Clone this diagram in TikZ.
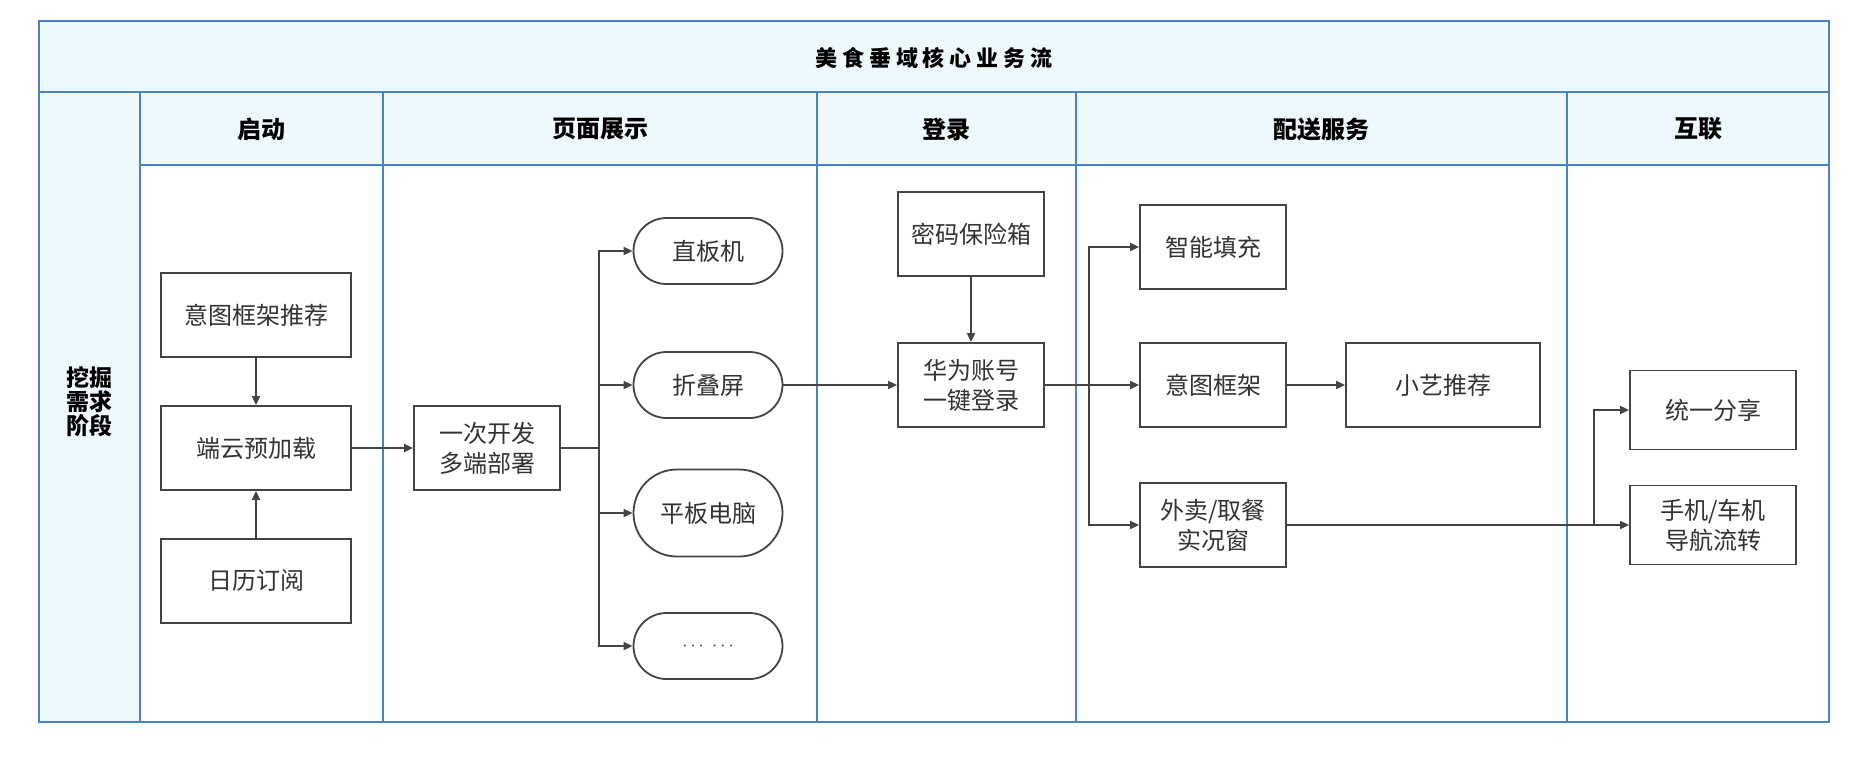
\documentclass[tikz,border=0pt]{standalone}
\usepackage{fontspec}
\setmainfont{Noto Sans CJK SC}
\newfontfamily\titlefont[LetterSpace=22]{Noto Sans CJK SC}
\usetikzlibrary{arrows.meta}
\definecolor{laneblue}{HTML}{4A82C6}
\definecolor{lanefill}{HTML}{EEF9FD}
\definecolor{ink}{HTML}{444444}
\definecolor{txt}{HTML}{333333}
\begin{document}
\begin{tikzpicture}[x=0.5pt,y=-0.5pt,
  grid/.style={draw=laneblue,line width=1pt},
  hd/.style={font=\fontsize{12}{12}\selectfont\bfseries,text=black},
  box/.style={draw=ink,line width=0.9pt,fill=white,text=txt,align=center,inner sep=2pt,minimum width=73pt,minimum height=42pt,font=\fontsize{12}{15}\selectfont},
  pill/.style={box,minimum width=74.5pt,minimum height=33pt,rounded corners=16.5pt},
  arr/.style={-{Triangle[length=4.5pt,width=4pt]},draw=ink,line width=0.9pt},
  ln/.style={draw=ink,line width=0.9pt}]
\useasboundingbox (0,0) rectangle (1861,762);
\fill[lanefill] (39,21) rectangle (1829,165); \fill[lanefill] (39,165) rectangle (140,722);
\draw[grid] (39,21) rectangle (1829,722); \draw[grid] (39,92) -- (1829,92); \draw[grid] (140,165) -- (1829,165);
\foreach \x in {140,383,817,1076,1567}{\draw[grid] (\x,92) -- (\x,722);}
\node[hd,font=\titlefont\fontsize{11}{11}\selectfont\bfseries] (title) at (934,58) {美食垂域核心业务流};
\node[hd] (h1) at (261,129) {启动}; \node[hd] (h2) at (600,129) {页面展示}; \node[hd] (h3) at (946,129) {登录};
\node[hd] (h4) at (1321,129) {配送服务}; \node[hd] (h5) at (1698,129) {互联};
\node[hd,align=center,font=\fontsize{11.5}{12}\selectfont\bfseries] (stage) at (89,402) {挖掘\\需求\\阶段};
\node[box,minimum width=95pt] (tj) at (256,315) {意图框架推荐};
\node[box,minimum width=95pt] (yj) at (256,448) {端云预加载};
\node[box,minimum width=95pt] (rl) at (256,581) {日历订阅};
\node[box] (kf) at (487,448) {一次开发\\多端部署};
\node[pill] (zb) at (708,251) {直板机}; \node[pill] (zd) at (708,385) {折叠屏};
\node[pill,minimum height=43.5pt,rounded corners=21.7pt] (pb) at (708,513) {平板电脑};
\node[pill] (more) at (708,646) {\small$\cdots\;\cdots$};
\node[box] (mm) at (971,234) {密码保险箱}; \node[box] (hw) at (971,385) {华为账号\\一键登录};
\node[box] (zn) at (1213,247) {智能填充}; \node[box] (yt) at (1213,385) {意图框架};
\node[box] (wm) at (1213,525) {外卖/取餐\\实况窗}; \node[box,minimum width=97pt] (xy) at (1443,385) {小艺推荐};
\node[box,minimum width=83pt,minimum height=39.5pt] (fx) at (1713,410) {统一分享};
\node[box,minimum width=83pt,minimum height=39.5pt] (sj) at (1713,525) {手机/车机\\导航流转};
\coordinate (s1) at (599,448); \coordinate (s2) at (1089,385); \coordinate (s3) at (1594,525);
\draw[arr] (tj) -- (yj); \draw[arr] (rl) -- (yj); \draw[arr] (yj) -- (kf);
\draw[ln] (kf) -- (s1); \foreach \n in {zb,zd,pb,more}{\draw[arr] (s1) |- (\n);}
\draw[arr] (zd) -- (hw); \draw[arr] (mm) -- (hw);
\draw[ln] (hw) -- (s2); \foreach \n in {zn,yt,wm}{\draw[arr] (s2) |- (\n);}
\draw[arr] (yt) -- (xy);
\draw[arr] (wm) -- (sj); \draw[arr] (s3) |- (fx);
\end{tikzpicture}
\end{document}
